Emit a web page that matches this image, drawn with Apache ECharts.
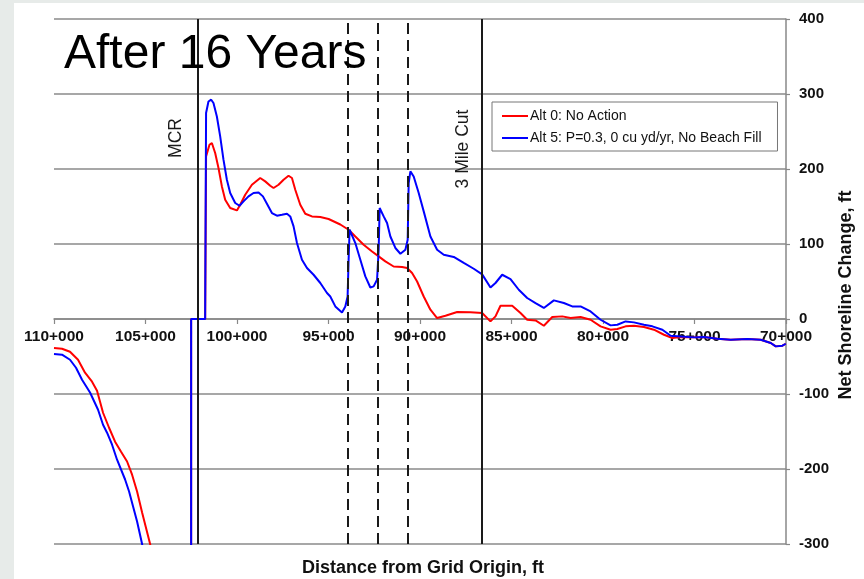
<!DOCTYPE html>
<html>
<head>
<meta charset="utf-8">
<script src="https://cdn.jsdelivr.net/npm/echarts@6/dist/echarts.min.js"></script>
<style>
html,body{margin:0;padding:0;background:#fff;}
#chart{width:864px;height:579px;}
</style>
</head>
<body>
<div id="chart"></div>
<script>
// ---- Data (distance in ft from grid origin, net shoreline change in ft) ----
const alt0X = [110000,109562,109125,108687,108304,107921,107648,107320,106991,106663,106335,106007,105733,105460,105186,104748,104600,102506,102506,101740,101690,101504,101373,101193,101012,100826,100646,100372,100005,99825,99551,99185,98731,98457,98184,98003,97730,97456,97183,96997,96816,96543,96269,95903,95448,94995,94355,93901,93534,93080,92620,92259,91893,91439,90979,90705,90432,90158,89797,89431,89065,88609,87970,87243,86603,86149,85875,85602,84962,84508,84142,83687,83233,82773,82226,81773,81226,80679,80132,79585,79218,78764,78309,77761,77215,76668,76210,75756,75028,74481,73749,73021,72107,71380,70833,70560,70193,70013];
const alt0Y = [-38.7,-39.6,-43.6,-54.3,-71.6,-83.6,-95.6,-125,-145,-163.6,-177,-190,-207.6,-230,-258,-300,-320,-320,0,0,216.8,232.4,234.7,221.3,201.3,176.8,159,148,144.8,152.4,165.7,179,188,183.5,177.7,174.7,179,185.7,191,188,172.4,152.4,140.4,136.8,136,133.3,126,119,110,99,90,83.5,76.8,70,69.3,68,61.3,50,30,12.4,1.3,4.4,9.3,9,8,-3.2,3.5,17.7,17.7,8,-1,-1.9,-9,2.6,3.5,1.3,2.6,-1,-9.8,-14.3,-13.4,-9.8,-9,-10.7,-14.3,-21,-25.4,-24,-24.5,-24,-26.3,-27.6,-26.7,-27.6,-32,-36.5,-35.6,-33];

const alt5X = [110000,109562,109125,108797,108468,108031,107593,107320,107101,106827,106554,106116,105897,105679,105460,105186,105000,102506,102506,101740,101690,101559,101411,101286,101100,100919,100739,100553,100372,100098,99863,99644,99371,99097,98823,98583,98364,98091,97817,97544,97270,97090,96909,96723,96450,96176,95815,95448,95082,94902,94628,94262,94081,93956,93901,93846,93770,93534,93260,92987,92713,92533,92347,92259,92204,92128,91985,91800,91619,91346,91072,90798,90673,90618,90525,90345,90071,89797,89431,89065,88702,88156,87609,87063,86603,86149,85875,85509,85055,84602,84142,83687,83233,82686,82139,81680,81226,80679,80132,79585,79218,78764,78309,77761,77302,76755,76303,75756,75028,74481,73749,73021,72107,71380,70833,70560,70193,70013];
const alt5Y = [-46.7,-47.6,-54.3,-65,-81,-98,-121,-141,-151.6,-167.6,-187.6,-214,-230,-250,-270,-300,-325,-325,0,0,274.7,290,292.4,288,270,243.5,212.4,185.7,168,154.7,151,156.8,163.5,168,168.8,163.5,153.7,141.3,137.7,139,140.4,136.8,123.5,101.3,79,68,59,48,34.7,30,16.8,8.8,16.8,30,79,119,120,101.3,79,56.8,42,43.5,52.4,92.4,148,146.7,136.8,128,110,94.7,87,92.4,105.7,181.3,196.8,190,168,143.5,110,92.4,85.7,82.7,74.7,67,59.5,42,48,59,53.3,39,28,21.3,14.7,24.8,21.3,16.8,16.8,10.1,-1,-8.5,-7.6,-3.2,-4.5,-7.6,-9.8,-14.3,-22.3,-23.2,-24.5,-24,-26.3,-27.6,-26.7,-27.6,-32,-36.5,-35.6,-33];

const seriesNames = ['Alt 0: No Action', 'Alt 5: P=0.3, 0 cu yd/yr, No Beach Fill'];
const solidLinesX = [102120, 86600];          // MCR, 3 Mile Cut
const dashedLinesX = [93940, 92300, 90680];
const xMin = 70000, xMax = 110000, xStep = 5000;
const yMin = -300, yMax = 400, yStep = 100;

const zip = (xs, ys) => xs.map((x, i) => [x, ys[i]]);

const FONT = 'Liberation Sans, Arial, sans-serif';
const GRID = { left: 54, right: 78, top: 19, bottom: 35 };
const plotH = 579 - GRID.top - GRID.bottom;
// x axis drawn at value 0 of the y scale (moved up from the grid bottom)
const zeroOffset = -plotH * (0 - yMin) / (yMax - yMin);

const chart = echarts.init(document.getElementById('chart'));
chart.setOption({
  backgroundColor: '#ffffff',
  animation: false,
  grid: Object.assign({ containLabel: false }, GRID),
  legend: {
    orient: 'vertical',
    left: 492, top: 102,
    padding: [7, 16, 6, 10],
    itemWidth: 26, itemHeight: 2, itemGap: 8,
    icon: 'rect',
    borderColor: '#777', borderWidth: 1, backgroundColor: '#fff',
    textStyle: { fontFamily: FONT, fontSize: 14, color: '#111', lineHeight: 14, padding: [0, 0, 0, -3] },
    data: seriesNames
  },
  xAxis: {
    type: 'value', inverse: true, min: xMin, max: xMax, interval: xStep,
    position: 'bottom', offset: zeroOffset,
    axisLine: { onZero: false, lineStyle: { color: '#888', width: 1.5 } },
    axisTick: { show: true, inside: false, length: 5, lineStyle: { color: '#888', width: 1.2 } },
    axisLabel: {
      margin: 10, fontFamily: FONT, fontWeight: 'bold', fontSize: 15.5, color: '#111',
      showMinLabel: true, showMaxLabel: true,
      formatter: v => (v / 1000) + '+000'
    },
    splitLine: { show: false }
  },
  yAxis: {
    type: 'value', position: 'right', min: yMin, max: yMax, interval: yStep,
    axisLine: { show: true, lineStyle: { color: '#888', width: 1.5 } },
    axisTick: { show: true, length: 4, lineStyle: { color: '#888', width: 1.2 } },
    axisLabel: { margin: 13, fontFamily: FONT, fontWeight: 'bold', fontSize: 15, color: '#111' },
    splitLine: { show: true, lineStyle: { color: '#8a8a8a', width: 1.5 } }
  },
  series: [
    {
      name: seriesNames[0], type: 'line', data: zip(alt0X, alt0Y),
      symbol: 'none', smooth: false, clip: true, z: 3,
      lineStyle: { color: '#ff0000', width: 2 }, itemStyle: { color: '#ff0000' },
      markLine: {
        silent: true, symbol: 'none', label: { show: false }, animation: false,
        data: solidLinesX.map(v => ({ xAxis: v, lineStyle: { color: '#1a1a1a', width: 2, type: 'solid' } }))
          .concat(dashedLinesX.map(v => ({ xAxis: v, lineStyle: { color: '#1a1a1a', width: 2, type: [11, 6] } })))
      }
    },
    {
      name: seriesNames[1], type: 'line', data: zip(alt5X, alt5Y),
      symbol: 'none', smooth: false, clip: true, z: 4,
      lineStyle: { color: '#0000ff', width: 2 }, itemStyle: { color: '#0000ff' }
    }
  ],
  graphic: [
    { type: 'rect', shape: { x: 0, y: 0, width: 14, height: 579 }, style: { fill: '#e7ebe9' }, z: -10 },
    { type: 'rect', shape: { x: 0, y: 0, width: 864, height: 3 }, style: { fill: '#e7ebe9' }, z: -10 },
    { type: 'text', x: 64, y: 55, style: { text: 'After 16 Years', fontFamily: FONT, fontSize: 48, fill: '#000', textAlign: 'left', textVerticalAlign: 'middle' }, z: 10 },
    { type: 'text', x: 176, y: 138, rotation: Math.PI / 2, style: { text: 'MCR', fontFamily: FONT, fontSize: 17.5, fill: '#1a1a1a', textAlign: 'center', textVerticalAlign: 'middle' }, z: 10 },
    { type: 'text', x: 463, y: 149, rotation: Math.PI / 2, style: { text: '3 Mile Cut', fontFamily: FONT, fontSize: 17.5, fill: '#1a1a1a', textAlign: 'center', textVerticalAlign: 'middle' }, z: 10 },
    { type: 'text', x: 846, y: 295, rotation: Math.PI / 2, style: { text: 'Net Shoreline Change, ft', fontFamily: FONT, fontWeight: 'bold', fontSize: 18, fill: '#111', textAlign: 'center', textVerticalAlign: 'middle' }, z: 10 },
    { type: 'text', x: 423, y: 568, style: { text: 'Distance from Grid Origin, ft', fontFamily: FONT, fontWeight: 'bold', fontSize: 18, fill: '#111', textAlign: 'center', textVerticalAlign: 'middle' }, z: 10 }
  ]
});
</script>
</body>
</html>
